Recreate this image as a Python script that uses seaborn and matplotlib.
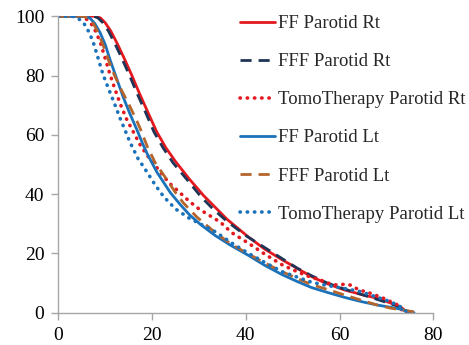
import matplotlib
matplotlib.use("Agg")
import matplotlib.pyplot as plt
import seaborn as sns
import pandas as pd

# dose (x) / volume (y) points
ff_rt_x = [0, 8, 9, 10, 11.2, 12.5, 14, 15.7, 17.3, 19, 21, 23, 25, 28, 31, 33, 36, 40.5, 44, 47.8,
           54, 57, 61, 65, 68, 71, 73, 74.5]
ff_rt_y = [100, 100, 99.4, 97.8, 95, 91, 86, 80, 74, 68, 61, 55.5, 51, 45, 39.5, 36.3, 31.5, 25.6, 21.5, 17.8,
           12.2, 10, 7.7, 6, 4.9, 3.2, 2, 0]

fff_rt_x = [0, 7.5, 8.5, 9.5, 10.7, 12, 13.5, 15.2, 16.8, 18.5, 20.4, 22.4, 24.5, 27.5, 30.5, 33, 36, 40,
            44, 47, 51, 54, 57.4, 61, 64, 68, 71.7, 75]
fff_rt_y = [100, 100, 99.4, 97.8, 95, 91, 86, 80, 74, 68, 61, 55.5, 50.5, 44.8, 39, 35, 30.8, 26,
            22, 19, 15, 12.5, 10, 8, 6.5, 4.5, 2.6, 0]

tomo_rt_x = [0, 4.6, 5.8, 7, 8, 9, 10, 11, 12, 13.2, 14.5, 16, 17.5, 19, 21.5, 23.5, 25.3, 28, 30, 34.6,
             37, 40.6, 44, 47.8, 51, 53.8, 56, 57.5, 59.5, 61, 62.4, 64, 66.7, 69.5, 72.4, 73.8]
tomo_rt_y = [100, 100, 99.3, 97.5, 94.8, 91, 85.8, 80.5, 75.8, 70.5, 65.5, 61, 56.5, 53, 48, 44, 41.4, 37.5, 35, 30.5,
             27, 23.4, 19.8, 16.1, 13.8, 12, 11, 10, 9.3, 9.6, 9.3, 7.8, 6.5, 4.8, 2.6, 0]

ff_lt_x = [0, 5.8, 6.8, 7.8, 8.9, 10, 11, 12, 13, 13.9, 15.3, 16.8, 18, 19, 21, 23.9, 26, 28, 30.3, 33.5,
           36.7, 40.6, 44, 47.8, 51, 54, 57.5, 61, 64.5, 68, 71, 73, 75.9]
ff_lt_y = [100, 100, 99.3, 97.5, 94.5, 90.5, 85.5, 81, 76.5, 72.5, 67, 61.6, 57, 53.5, 47.5, 40.5, 36.5, 33, 29.8, 26,
           22.8, 19.3, 16, 12.8, 10.5, 8.5, 6.8, 5.2, 3.8, 2.6, 1.8, 1.2, 0]

fff_lt_x = [0, 5.3, 6.4, 7.5, 8.5, 9.5, 10.7, 12, 13.5, 15.3, 16.8, 17.5, 19, 20.7, 23.2, 25, 26.7, 29.6,
            33.5, 37, 40.6, 44, 47.8, 51, 54, 57.5, 61, 64.5, 68, 71, 73, 75, 77.3]
fff_lt_y = [100, 100, 99.3, 97.5, 94.5, 90.5, 85.2, 80, 75, 69.5, 64.5, 62, 56, 50.5, 44.8, 40.5, 37, 32.2,
            27, 23, 19.8, 16.8, 13.8, 11.5, 9.5, 7.8, 6, 4.3, 2.6, 1.5, 1, 0.5, 0]

tomo_lt_x = [0, 3, 4.3, 5.5, 6.6, 7.5, 8.5, 9.5, 10.6, 11.7, 13.2, 15.3, 17, 18.9, 20.7, 22.5, 25, 28, 31.7,
             33.5, 37, 40.6, 44, 47.8, 51, 53.8, 56, 58, 61, 64.5, 67.5, 70.9, 73, 74.5]
tomo_lt_y = [100, 100, 99.2, 97.5, 94.5, 91, 85.8, 80.5, 76, 71.7, 65.5, 57.5, 52, 47.5, 43, 39.1, 35, 31.8, 28.8,
             27.3, 23.5, 20, 17, 13.8, 12, 10.4, 9.6, 9, 8.2, 7.1, 5.5, 3.7, 2, 0]

labels = ["FF Parotid Rt", "FFF Parotid Rt", "TomoTherapy Parotid Rt",
          "FF Parotid Lt", "FFF Parotid Lt", "TomoTherapy Parotid Lt"]
xs = [ff_rt_x, fff_rt_x, tomo_rt_x, ff_lt_x, fff_lt_x, tomo_lt_x]
ys = [ff_rt_y, fff_rt_y, tomo_rt_y, ff_lt_y, fff_lt_y, tomo_lt_y]

colors = ["#E3191F", "#1F3557", "#E3191F", "#1A72BB", "#B5652B", "#1A72BB"]
styles = ["-", (0, (4, 2.5)), (0, (0.1, 1.9)), "-", (0, (4, 2.5)), (0, (0.1, 1.9))]
widths = [2.0, 2.0, 2.6, 2.0, 2.0, 2.6]

sns.set_style("white")
plt.rcParams['font.family'] = ['Liberation Serif', 'DejaVu Serif']

fig = plt.figure(figsize=(4.69, 3.45), dpi=100)
ax = fig.add_axes([0.1243, 0.0936, 0.7996, 0.8594])

for lab, x, y, c, ls, w in zip(labels, xs, ys, colors, styles, widths):
    df = pd.DataFrame({"dose": x, "volume": y})
    sns.lineplot(data=df, x="dose", y="volume", ax=ax, color=c, linestyle=ls,
                 lw=w, label=lab, sort=False, estimator=None,
                 dash_capstyle="butt" if ls == "-" or w < 2.5 else "round")

ax.set_xlim(0, 80)
ax.set_ylim(0, 100)
ax.set_xticks([0, 20, 40, 60, 80])
ax.set_yticks([0, 20, 40, 60, 80, 100])
ax.set_xlabel("")
ax.set_ylabel("")
for s in ["top", "right"]:
    ax.spines[s].set_visible(False)
for s in ["left", "bottom"]:
    ax.spines[s].set_color("#A6A6A6")
    ax.spines[s].set_linewidth(1.0)
ax.tick_params(axis="both", direction="out", length=5, width=1.0, color="#A6A6A6",
               labelsize=14, labelcolor="black", pad=5, left=True, bottom=True)

handles, labs = ax.get_legend_handles_labels()
leg = ax.legend(handles, labs, loc="upper left", bbox_to_anchor=(240 / 469, 1 - 15 / 345),
                bbox_transform=fig.transFigure, frameon=False, fontsize=13.5,
                handlelength=1.87, handletextpad=0.16, labelspacing=1.12,
                borderaxespad=0, borderpad=0)

fig.savefig("out.png", dpi=100)
